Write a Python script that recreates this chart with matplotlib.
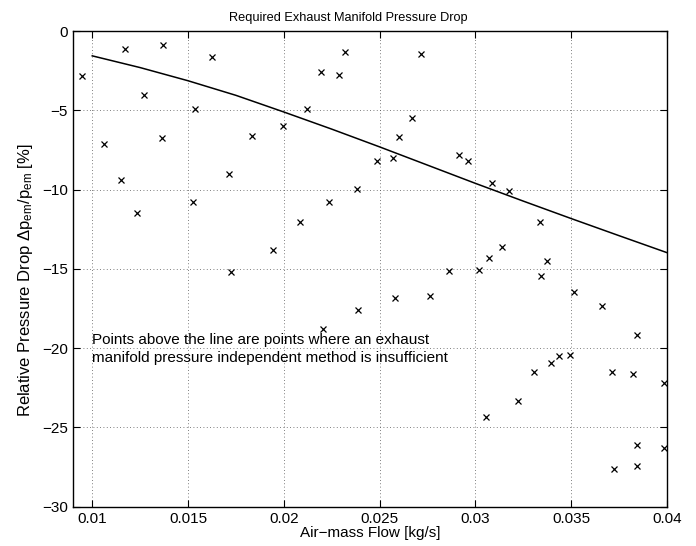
import numpy as np
import matplotlib
matplotlib.use('Agg')
import matplotlib.pyplot as plt

plt.rcParams['font.family'] = ['Liberation Sans', 'DejaVu Sans']
plt.rcParams['mathtext.default'] = 'regular'
plt.rcParams['axes.unicode_minus'] = True

# measured operating points (air-mass flow [kg/s], relative pressure drop [%])
flow = [0.00945, 0.01172, 0.01371, 0.01624, 0.01269, 0.01537, 0.01063, 0.01363,
        0.01834, 0.01713, 0.01152, 0.01525, 0.01234, 0.01946, 0.01723, 0.02320,
        0.02717, 0.02193, 0.02289, 0.02123, 0.01995, 0.02672, 0.02602, 0.02486,
        0.02570, 0.02916, 0.02961, 0.02385, 0.02237, 0.02085, 0.02864, 0.03017,
        0.03090, 0.03177, 0.03338, 0.03141, 0.03071, 0.03372, 0.03341, 0.03515,
        0.03663, 0.03847, 0.03496, 0.03435, 0.03395, 0.03309, 0.03716, 0.03826,
        0.03987, 0.03224, 0.03055, 0.03847, 0.03987, 0.03726, 0.03847, 0.02207,
        0.02387, 0.02582, 0.02764]
drop = [-2.84, -1.13, -0.88, -1.62, -4.01, -4.94, -7.14, -6.76,
        -6.62, -8.99, -9.37, -10.78, -11.49, -13.82, -15.17, -1.30,
        -1.47, -2.58, -2.79, -4.94, -5.96, -5.48, -6.66, -8.19,
        -8.02, -7.83, -8.17, -9.96, -10.78, -12.06, -15.14, -15.06,
        -9.60, -10.06, -12.06, -13.59, -14.33, -14.47, -15.42, -16.47,
        -17.31, -19.16, -20.40, -20.52, -20.94, -21.51, -21.53, -21.61,
        -22.18, -23.36, -24.37, -26.09, -26.32, -27.64, -27.45, -18.78,
        -17.58, -16.84, -16.68]

# required drop curve
req_flow = [0.01, 0.0125, 0.015, 0.0175, 0.02, 0.0225, 0.025, 0.0275,
            0.03, 0.0325, 0.035, 0.0375, 0.04]
req_drop = [-1.56, -2.30, -3.13, -4.05, -5.10, -6.18, -7.30, -8.45,
            -9.60, -10.72, -11.82, -12.90, -13.97]

fig = plt.figure(figsize=(6.96, 5.46), dpi=100)
ax = fig.add_axes([0.1053, 0.072, 0.8527, 0.871])

ax.plot(flow, drop, 'x', color='black', markersize=3.8, markeredgewidth=0.9)
ax.plot(req_flow, req_drop, '-', color='black', linewidth=1.1)

ax.set_xlim(0.00901, 0.04)
ax.set_ylim(-30, 0)
ax.set_xticks([0.01, 0.015, 0.02, 0.025, 0.03, 0.035, 0.04])
ax.set_xticklabels(['0.01', '0.015', '0.02', '0.025', '0.03', '0.035', '0.04'])
ax.set_yticks([0, -5, -10, -15, -20, -25, -30])
ax.set_yticklabels(['0', '\u22125', '\u221210', '\u221215', '\u221220', '\u221225', '\u221230'])

ax.grid(True, linestyle=(0, (1, 3)), color='#555555', linewidth=0.6)
ax.tick_params(direction='in', top=True, right=True, length=5, width=0.8,
               labelsize=11, colors='black', pad=4)
for s in ax.spines.values():
    s.set_linewidth(1.0)

ax.set_title('Required Exhaust Manifold Pressure Drop', fontsize=9.2, pad=7, x=0.463)
ax.set_xlabel('Air\u2212mass Flow [kg/s]', fontsize=11, labelpad=0)
ax.set_ylabel(r'Relative Pressure Drop $\Delta p_{em}/p_{em}$ [%]', fontsize=12)
ax.yaxis.set_label_coords(-0.064, 0.477)

ax.text(0.01, -20.05, 'Points above the line are points where an exhaust\n'
        'manifold pressure independent method is insufficient',
        fontsize=11, va='center', ha='left', linespacing=1.44)

fig.savefig('out.png', dpi=100)
